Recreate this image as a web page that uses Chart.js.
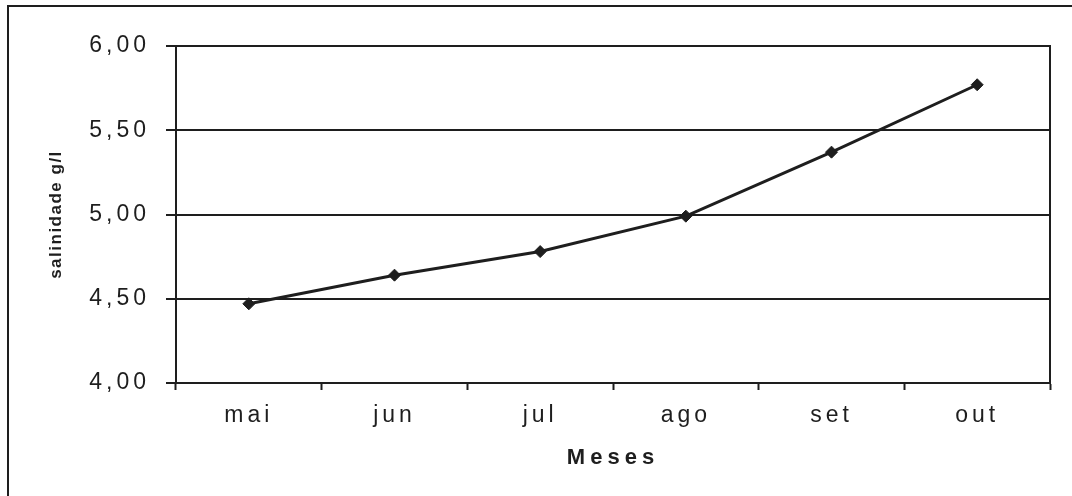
<!DOCTYPE html>
<html>
<head>
<meta charset="utf-8">
<title>Salinidade mensal</title>
<script src="https://cdn.jsdelivr.net/npm/chart.js@4"></script>
<style>
  html, body { margin: 0; padding: 0; background: #fff; }
  #wrap { position: relative; width: 1072px; height: 496px; overflow: hidden; }
  canvas { display: block; }
</style>
</head>
<body>
<div id="wrap"><canvas id="c" width="1072" height="496"></canvas></div>
<script>
// Monthly salinity readings (g/l)
const meses = ['mai', 'jun', 'jul', 'ago', 'set', 'out'];
const salinidade = [4.47, 4.64, 4.78, 4.99, 5.37, 5.77];

// Value axis range and tick step
const yMin = 4.0;
const yMax = 6.0;
const yStep = 0.5;

const xTitle = 'Meses';
const yTitle = 'salinidade g/l';

const INK = '#1e1e1e';
const FONT = "'Liberation Sans', Arial, sans-serif";

// Run a scale drawing routine with a given canvas letter spacing
function withSpacing(scale, name, px) {
  const orig = scale[name];
  scale[name] = function (...args) {
    const ctx = this.ctx;
    const prev = ctx.letterSpacing;
    ctx.letterSpacing = px + 'px';
    orig.apply(this, args);
    ctx.letterSpacing = prev;
  };
}

const spacedText = {
  id: 'spacedText',
  beforeDraw(chart) {
    if (chart.$spaced) return;
    chart.$spaced = true;
    withSpacing(chart.scales.x, 'drawLabels', 4);
    withSpacing(chart.scales.x, 'drawTitle', 5);
    withSpacing(chart.scales.y, 'drawLabels', 4);
    withSpacing(chart.scales.y, 'drawTitle', 1.5);
  }
};

// Outer frame of the figure and the box around the plot area
const frames = {
  id: 'frames',
  beforeDraw(chart) {
    const ctx = chart.ctx;
    ctx.save();
    ctx.strokeStyle = INK;
    ctx.lineWidth = 2;
    ctx.beginPath();
    ctx.moveTo(8, chart.height);
    ctx.lineTo(8, 6);
    ctx.lineTo(chart.width, 6);
    ctx.stroke();
    ctx.restore();
  },
  beforeDatasetsDraw(chart) {
    const a = chart.chartArea;
    const ctx = chart.ctx;
    ctx.save();
    ctx.strokeStyle = INK;
    ctx.lineWidth = 2;
    ctx.strokeRect(a.left, a.top, a.right - a.left, a.bottom - a.top);
    ctx.restore();
  }
};

new Chart(document.getElementById('c'), {
  type: 'line',
  data: {
    labels: meses,
    datasets: [{
      data: salinidade,
      borderColor: INK,
      borderWidth: 3,
      tension: 0,
      pointStyle: 'rectRot',
      pointRadius: 6,
      pointBackgroundColor: INK,
      pointBorderColor: INK,
      pointBorderWidth: 1,
      clip: false
    }]
  },
  options: {
    responsive: false,
    animation: false,
    devicePixelRatio: 1,
    layout: { padding: { left: 0, right: 22, top: 46, bottom: 0 } },
    plugins: {
      legend: { display: false },
      tooltip: { enabled: false }
    },
    scales: {
      x: {
        type: 'category',
        offset: true,
        grid: {
          offset: true,
          drawOnChartArea: false,
          drawTicks: true,
          tickLength: 7,
          tickColor: INK,
          tickWidth: 2
        },
        border: { display: true, color: INK, width: 2 },
        ticks: {
          color: INK,
          font: { family: FONT, size: 23 },
          padding: 12,
          maxRotation: 0,
          autoSkip: false
        },
        title: {
          display: true,
          text: xTitle,
          color: INK,
          font: { family: FONT, size: 22, weight: 'bold' },
          padding: { top: 0, bottom: 25 }
        },
        afterFit(s) { s.height = 113; }
      },
      y: {
        min: yMin,
        max: yMax,
        ticks: {
          stepSize: yStep,
          color: INK,
          font: { family: FONT, size: 23 },
          padding: 16,
          callback: v => Number(v).toFixed(2).replace('.', ',')
        },
        grid: {
          color: INK,
          lineWidth: 2,
          tickLength: 10,
          tickColor: INK,
          tickWidth: 2
        },
        border: { display: true, color: INK, width: 2 },
        title: {
          display: true,
          text: yTitle,
          color: INK,
          font: { family: FONT, size: 17, weight: 'bold' },
          padding: { top: 46, bottom: 0 }
        },
        afterFit(s) { s.width = 176; }
      }
    }
  },
  plugins: [spacedText, frames]
});
</script>
</body>
</html>
